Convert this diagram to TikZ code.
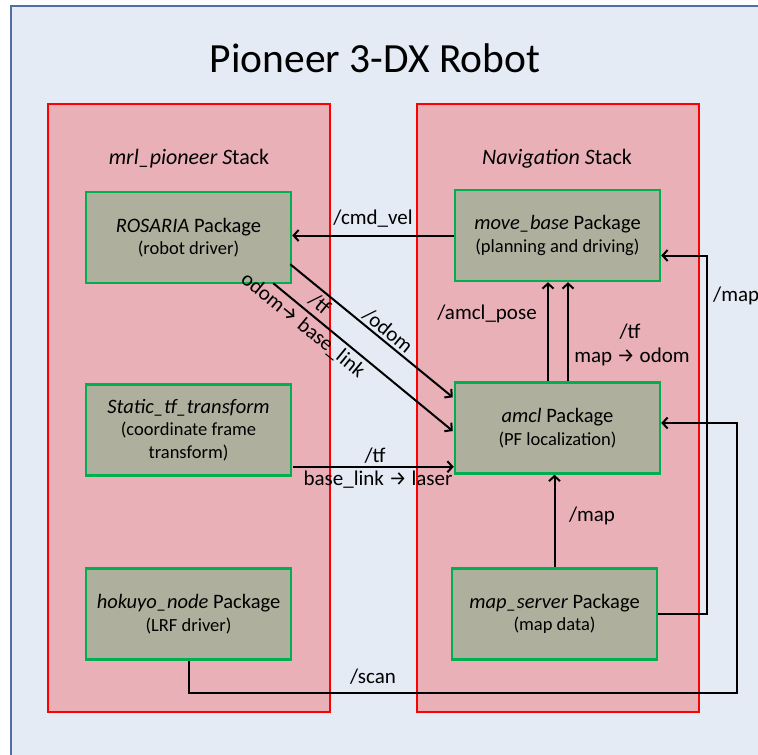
\documentclass[tikz,border=0pt]{standalone}
\usepackage{fontspec}
\setmainfont{Carlito}
\newfontfamily\arrfont{Fira Sans}
\usetikzlibrary{arrows.meta,calc}
\definecolor{bgblue}{HTML}{E4EBF5}
\definecolor{bgborder}{HTML}{4F6FA0}
\definecolor{stackfill}{HTML}{EAB0B7}
\definecolor{pkgfill}{HTML}{AFAF9D}
\definecolor{pkggreen}{HTML}{00B050}
\newcommand{\rarr}{{\arrfont\fontsize{20}{22}\selectfont →}}
\newcommand{\subf}{\fontsize{18.5}{22.5}\selectfont}
\begin{document}
\begin{tikzpicture}[x=1pt,y=1pt,
  stackbox/.style={draw=red,line width=2pt,fill=stackfill},
  pkg/.style={draw=pkggreen,line width=2.5pt,fill=pkgfill,minimum width=205pt,minimum height=91pt,align=center,font=\fontsize{20.5}{22.5}\selectfont,inner sep=0pt,execute at begin node=\rule{0pt}{19pt}},
  conn/.style={line width=2pt,-{Straight Barb[length=5pt,width=11pt]}},
  lbl/.style={font=\fontsize{21}{24}\selectfont,inner sep=0pt,align=center}]
\useasboundingbox (0,0) rectangle (758,-755);
\clip (0,0) rectangle (758,-755);
\fill[white] (0,0) rectangle (758,-755);
\draw[bgborder,fill=bgblue,line width=2pt] (11,-6) rectangle (800,-800);
\node[font=\fontsize{41.5}{48}\selectfont,inner sep=0pt] (title) at (375,-58) {Pioneer 3-DX Robot};
% stacks
\draw[stackbox] (48,-104) rectangle (330,-712);
\draw[stackbox] (417,-104) rectangle (699,-712);
\node[lbl,font=\fontsize{22}{24}\selectfont] (ls) at (189,-159) {\textit{mrl\_pioneer S}tack};
\node[lbl,font=\fontsize{22}{24}\selectfont] (rs) at (557,-159) {\textit{Navigation S}tack};
% packages
\node[pkg] (ros) at (188.5,-237.5) {\textit{ROSARIA} Package\\\subf (robot driver)};
\node[pkg] (st) at (188.5,-430) {\textit{Static\_tf\_transform}\\\subf (coordinate frame\\\subf transform)};
\node[pkg] (hk) at (188.5,-614) {\textit{hokuyo\_node} Package\\\subf (LRF driver)};
\node[pkg] (mb) at (557.5,-235.5) {\textit{move\_base} Package\\\subf (planning and driving)};
\node[pkg] (amcl) at (557.5,-428) {\textit{amcl} Package\\\subf (PF localization)};
\node[pkg] (ms) at (554.5,-614) {\textit{map\_server} Package\\\subf (map data)};
% coordinates for bends and ports
\coordinate (mapx) at (707,0);
\coordinate (scanx) at (737,0);
\coordinate (scany) at (0,-693);
\coordinate (stout) at ($(st.south east)+(1,10)$);
\coordinate (mbin) at ($(mb.east)+(0,-20)$);
\coordinate (amclin) at ($(amcl.east)+(0,5)$);
% connectors
\draw[conn] (mb.west) -- (mb.west -| ros.east);
\draw[conn] ($(ros.south east)+(-2,20)$) -- ($(amcl.north west)+(-1,-16)$);
\draw[conn] ($(ros.south east)+(-19,1)$) -- ($(amcl.west)+(-1,-3)$);
\draw[conn] (stout) -- (stout -| amcl.west);
\draw[conn] ($(amcl.north)+(-9.5,0)$) -- ($(mb.south)+(-9.5,0)$);
\draw[conn] ($(amcl.north)+(10.5,0)$) -- ($(mb.south)+(10.5,0)$);
\draw[conn] (ms.north) -- (ms.north |- amcl.south);
\draw[conn] (ms.east) -- (ms.east -| mapx) -- (mbin -| mapx) -- (mbin);
\draw[conn] (hk.south) -- (hk.south |- scany) -- (scanx |- scany) -- (amclin -| scanx) -- (amclin);
% labels
\node[lbl] (lcmd) at (373,-219) {/cmd\_vel};
\node[lbl,rotate=-39.5] (lodom) at (388,-331) {/odom};
\node[lbl,rotate=-39.3,font=\fontsize{21}{26}\selectfont] (ltf1) at (311,-315) {/tf\\odom\rarr\ base\_link};
\node[lbl] (ltf2) at (375,-456) {/tf};
\node[lbl] (ltf2b) at (378,-480) {base\_link \rarr\ laser};
\node[lbl] (lpose) at (487,-314) {/amcl\_pose};
\node[lbl] (ltf3) at (630,-332) {/tf};
\node[lbl] (ltf3b) at (632,-357) {map \rarr\ odom};
\node[lbl] (lmap) at (592,-516) {/map};
\node[lbl,anchor=west] (lmap2) at (713,-296) {/map};
\node[lbl] (lscan) at (373,-677) {/scan};
\end{tikzpicture}
\end{document}
